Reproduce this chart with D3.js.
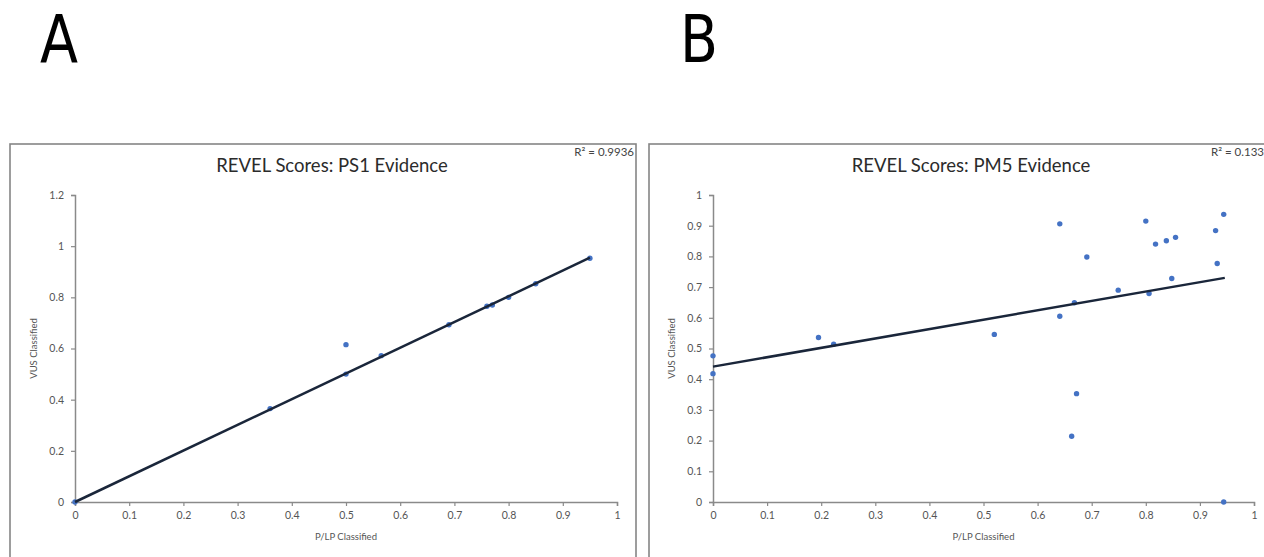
<!DOCTYPE html>
<html>
<head>
<meta charset="utf-8">
<script src="https://cdn.jsdelivr.net/npm/d3@7.9.0/dist/d3.min.js"></script>
<style>
  body { margin: 0; background: #fff; }
  svg { display: block; font-family: Lato, "Open Sans", sans-serif; }
</style>
</head>
<body>
<svg id="chart" width="1264" height="557"></svg>
<script>
// PS1 evidence: P/LP classified vs VUS classified
const ps1X = [0, 0.36, 0.5, 0.5, 0.565, 0.69, 0.76, 0.77, 0.8, 0.85, 0.95];
const ps1Y = [0, 0.365, 0.5, 0.615, 0.572, 0.693, 0.765, 0.77, 0.8, 0.853, 0.953];
const ps1Trend = [[0, 0.0], [0.95, 0.955]];

// PM5 evidence
const pm5X = [0, 0, 0.195, 0.223, 0.52, 0.641, 0.641, 0.668, 0.672, 0.663, 0.691, 0.749,
  0.8, 0.806, 0.818, 0.838, 0.855, 0.848, 0.929, 0.932, 0.944, 0.944];
const pm5Y = [0.476, 0.418, 0.536, 0.514, 0.546, 0.906, 0.605, 0.649, 0.353, 0.214, 0.798, 0.69,
  0.915, 0.679, 0.84, 0.851, 0.862, 0.728, 0.884, 0.777, 0.937, 0.0];
const pm5Trend = [[0, 0.441], [0.946, 0.73]];

const ps1Ticks = [0, 0.2, 0.4, 0.6, 0.8, 1, 1.2];
const pm5Ticks = [0, 0.1, 0.2, 0.3, 0.4, 0.5, 0.6, 0.7, 0.8, 0.9, 1];
const xTicks = [0, 0.1, 0.2, 0.3, 0.4, 0.5, 0.6, 0.7, 0.8, 0.9, 1];

const svg = d3.select('#chart');

function drawPanel(opt) {
  const g = svg.append('g');

  g.append('rect')
    .attr('x', opt.box[0]).attr('y', opt.box[1])
    .attr('width', opt.box[2]).attr('height', opt.box[3])
    .attr('fill', 'none')
    .attr('stroke', '#858585')
    .attr('stroke-width', 1.6);

  const x = d3.scaleLinear().domain([0, 1]).range(opt.xRange);
  const y = d3.scaleLinear().domain([0, opt.yMax]).range(opt.yRange);

  const xAxis = g.append('g')
    .attr('transform', `translate(0,${opt.yRange[0]})`)
    .call(d3.axisBottom(x).tickValues(xTicks).tickSize(4).tickPadding(6)
      .tickFormat(d => String(+d.toFixed(1))));
  const yAxis = g.append('g')
    .attr('transform', `translate(${opt.xRange[0]},0)`)
    .call(d3.axisLeft(y).tickValues(opt.yTicks).tickSize(4).tickPadding(7)
      .tickFormat(d => String(+d.toFixed(1))));

  [xAxis, yAxis].forEach(a => {
    a.select('.domain').attr('stroke', '#8a8a8a').attr('stroke-width', 1.5);
    a.selectAll('.tick line').attr('stroke', '#8a8a8a').attr('stroke-width', 1.2);
    a.selectAll('.tick text').attr('fill', '#555').attr('font-size', 10.5)
      .attr('font-family', 'Lato, sans-serif');
  });

  // points
  g.append('g').selectAll('circle')
    .data(d3.zip(opt.xs, opt.ys))
    .join('circle')
    .attr('cx', d => x(d[0]))
    .attr('cy', d => y(d[1]))
    .attr('r', 2.7)
    .attr('fill', '#4472c4');

  // trendline
  g.append('path')
    .datum(opt.trend)
    .attr('d', d3.line().x(d => x(d[0])).y(d => y(d[1])))
    .attr('fill', 'none')
    .attr('stroke', '#1a263a')
    .attr('stroke-width', 2.5);

  g.append('text')
    .attr('x', (opt.box[0] + opt.box[0] + opt.box[2]) / 2 + opt.titleDx)
    .attr('y', 172)
    .attr('text-anchor', 'middle')
    .attr('font-size', 18.5)
    .attr('fill', '#2b2b2b')
    .text(opt.title);

  g.append('text')
    .attr('x', opt.r2x)
    .attr('y', 156)
    .attr('text-anchor', opt.r2anchor)
    .attr('font-size', 11.5)
    .attr('fill', '#444')
    .text(opt.r2);

  g.append('text')
    .attr('x', (opt.xRange[0] + opt.xRange[1]) / 2)
    .attr('y', 540)
    .attr('text-anchor', 'middle')
    .attr('font-size', 9.5)
    .attr('fill', '#555')
    .text('P/LP Classified');

  g.append('text')
    .attr('transform', `translate(${opt.xRange[0] - 38},${(opt.yRange[0] + opt.yRange[1]) / 2}) rotate(-90)`)
    .attr('text-anchor', 'middle')
    .attr('font-size', 9.5)
    .attr('fill', '#555')
    .text('VUS Classified');
}

drawPanel({
  box: [10, 144, 626, 440],
  xRange: [75, 617], yRange: [502, 195], yMax: 1.2,
  yTicks: ps1Ticks, xs: ps1X, ys: ps1Y, trend: ps1Trend,
  title: 'REVEL Scores: PS1 Evidence', titleDx: 9,
  r2: 'R² = 0.9936', r2x: 634, r2anchor: 'end'
});

drawPanel({
  box: [649, 144, 640, 440],
  xRange: [713, 1254], yRange: [502, 195], yMax: 1,
  yTicks: pm5Ticks, xs: pm5X, ys: pm5Y, trend: pm5Trend,
  title: 'REVEL Scores: PM5 Evidence', titleDx: 2,
  r2: 'R² = 0.133', r2x: 1211, r2anchor: 'start'
});

// panel letters, tall and narrow
[['A', 40], ['B', 680]].forEach(([t, x0]) => {
  svg.append('text')
    .attr('x', x0)
    .attr('y', 62)
    .attr('font-size', 65)
    .attr('font-family', '"DejaVu Sans Condensed", "DejaVu Sans", sans-serif')
    .attr('font-weight', 300)
    .attr('textLength', 38)
    .attr('lengthAdjust', 'spacingAndGlyphs')
    .attr('fill', '#000')
    .text(t);
});
</script>
</body>
</html>
